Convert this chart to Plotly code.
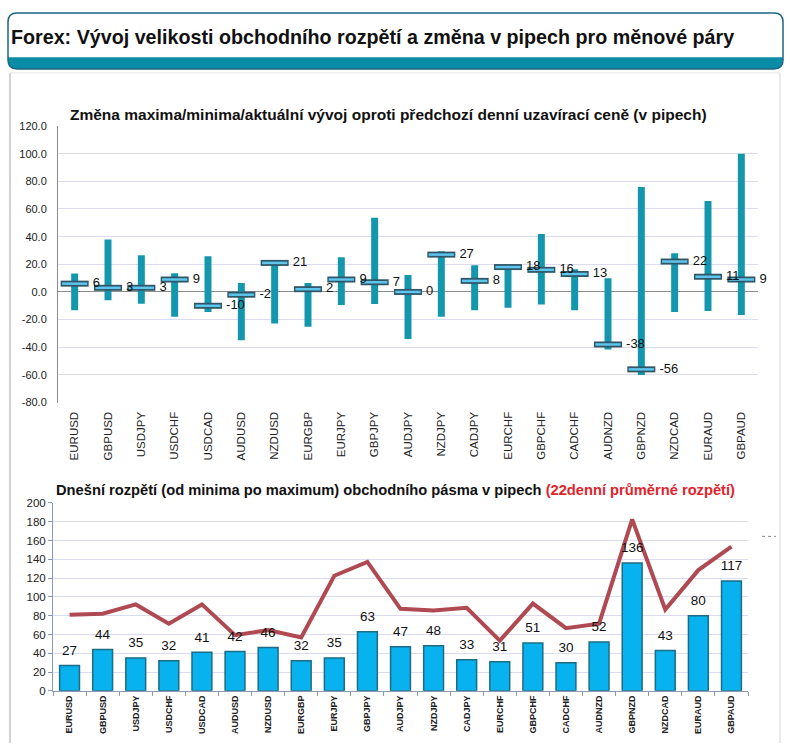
import plotly.graph_objects as go

W, H = 790, 749

pairs = ["EURUSD", "GBPUSD", "USDJPY", "USDCHF", "USDCAD", "AUDUSD", "NZDUSD",
         "EURGBP", "EURJPY", "GBPJPY", "AUDJPY", "NZDJPY", "CADJPY", "EURCHF",
         "GBPCHF", "CADCHF", "AUDNZD", "GBPNZD", "NZDCAD", "EURAUD", "GBPAUD"]

# top chart: change of high / low / current vs previous close (pips)
high_chg = [13.4, 37.9, 26.5, 13.5, 25.8, 6.4, 22.5, 6.4, 25.1, 53.6, 12.3,
            29.4, 19.4, 18.8, 41.9, 16.5, 9.9, 75.9, 28.0, 65.7, 100.0]
low_chg = [-13.3, -6.0, -8.6, -18.0, -14.5, -35.0, -22.8, -25.2, -9.5, -8.8, -34.0,
           -18.0, -13.3, -11.4, -9.0, -13.3, -41.6, -60.0, -14.5, -13.8, -16.7]
cur_chg = [6, 3, 3, 9, -10, -2, 21, 2, 9, 7, 0, 27, 8, 18, 16, 13, -38, -56, 22, 11, 9]

# bottom chart: today's range and 22-day average range
today_range = [27, 44, 35, 32, 41, 42, 46, 32, 35, 63, 47, 48, 33, 31, 51, 30, 52, 136, 43, 80, 117]
avg22_range = [81, 82, 92, 71.5, 92, 59.3, 64.6, 56.9, 122.5, 137.2, 87.3, 85.5, 88.3,
               53.4, 92.9, 66.7, 71.5, 182.5, 86.6, 128.5, 153.6]

top_ticks = [120, 100, 80, 60, 40, 20, 0, -20, -40, -60, -80]
bot_ticks = [0, 20, 40, 60, 80, 100, 120, 140, 160, 180, 200]


def X(px):
    return px / W


def Y(py):
    return 1 - py / H


def rrect(x0, y0, x1, y1, r, top_only=False):
    pts = []
    pts.append(f"M {X(x0 + r)},{Y(y0)}")
    pts.append(f"L {X(x1 - r)},{Y(y0)}")
    pts.append(f"Q {X(x1)},{Y(y0)} {X(x1)},{Y(y0 + r)}")
    if top_only:
        pts.append(f"L {X(x1)},{Y(y1)}")
        pts.append(f"L {X(x0)},{Y(y1)}")
    else:
        pts.append(f"L {X(x1)},{Y(y1 - r)}")
        pts.append(f"Q {X(x1)},{Y(y1)} {X(x1 - r)},{Y(y1)}")
        pts.append(f"L {X(x0 + r)},{Y(y1)}")
        pts.append(f"Q {X(x0)},{Y(y1)} {X(x0)},{Y(y1 - r)}")
    pts.append(f"L {X(x0)},{Y(y0 + r)}")
    pts.append(f"Q {X(x0)},{Y(y0)} {X(x0 + r)},{Y(y0)}")
    pts.append("Z")
    return " ".join(pts)


FONT = "Liberation Sans, Arial, sans-serif"
fig = go.Figure()

# ---- top chart ----
span = [h - l for h, l in zip(high_chg, low_chg)]
fig.add_trace(go.Bar(x=pairs, y=span, base=low_chg, width=0.21,
                     marker=dict(color="#1497ad", line=dict(width=0)),
                     xaxis="x", yaxis="y", hoverinfo="skip", showlegend=False))
fig.add_trace(go.Scatter(x=pairs, y=cur_chg, mode="markers",
                         marker=dict(symbol="line-ew", size=20,
                                     line=dict(width=6, color="#2f5566")),
                         xaxis="x", yaxis="y", cliponaxis=False,
                         hoverinfo="skip", showlegend=False))
fig.add_trace(go.Scatter(x=pairs, y=cur_chg, mode="markers",
                         marker=dict(symbol="line-ew", size=18,
                                     line=dict(width=2.5, color="#5cc6ee")),
                         xaxis="x", yaxis="y", cliponaxis=False,
                         hoverinfo="skip", showlegend=False))
fig.add_trace(go.Scatter(x=pairs, y=cur_chg, mode="text",
                         text=[f"     {v}" for v in cur_chg], textposition="middle right",
                         textfont=dict(family=FONT, size=13, color="#111"),
                         xaxis="x", yaxis="y", cliponaxis=False,
                         hoverinfo="skip", showlegend=False))

# ---- bottom chart ----
fig.add_trace(go.Bar(x=pairs, y=today_range, width=0.6,
                     marker=dict(color="#08b2ee", line=dict(width=1.5, color="#1b6c84")),
                     xaxis="x2", yaxis="y2", hoverinfo="skip", showlegend=False))
fig.add_trace(go.Scatter(x=pairs, y=avg22_range, mode="lines",
                         line=dict(color="#b04a52", width=4),
                         xaxis="x2", yaxis="y2", hoverinfo="skip", showlegend=False))
fig.add_trace(go.Scatter(x=pairs, y=today_range, mode="markers+text",
                         text=[str(v) for v in today_range], textposition="top center",
                         textfont=dict(family=FONT, size=13.5, color="#111"),
                         marker=dict(size=10, color="rgba(0,0,0,0)"),
                         xaxis="x2", yaxis="y2", cliponaxis=False,
                         hoverinfo="skip", showlegend=False))

axis_font = dict(family=FONT, size=11, color="#222")
ncat = len(pairs)

fig.update_layout(
    width=W, height=H, autosize=False,
    margin=dict(l=0, r=0, t=0, b=0),
    paper_bgcolor="white", plot_bgcolor="rgba(0,0,0,0)",
    xaxis=dict(domain=[X(58), X(758)], type="category", tickangle=-90,
               range=[-0.5, ncat - 0.5],
               tickfont=dict(family=FONT, size=11.5, color="#222"),
               showgrid=False, showline=False, ticks="", ticklabelstandoff=6),
    yaxis=dict(domain=[Y(403), Y(122)], range=[-80, 120], tickvals=top_ticks,
               ticktext=[f"{v:.1f}" for v in top_ticks], tickfont=axis_font,
               gridcolor="#dcdcf0", gridwidth=1, zeroline=True, zerolinecolor="#8c8c8c",
               zerolinewidth=1, showline=True, linecolor="#8c8c8c", linewidth=1,
               ticks="", ticklabelstandoff=8),
    xaxis2=dict(domain=[X(53), X(748)], type="category", tickangle=-90,
                range=[-0.5, ncat - 0.5],
                tickfont=dict(family=FONT, size=9, color="#222", weight="bold"),
                showgrid=False, showline=True, linecolor="#8a9ab6", linewidth=1,
                ticks="outside", tickson="boundaries", ticklen=4, tickcolor="#8a9ab6",
                anchor="y2"),
    yaxis2=dict(domain=[Y(696), Y(505)], range=[0, 200], tickvals=bot_ticks,
                tickfont=dict(family=FONT, size=11.5, color="#222"),
                gridcolor="#dcdcf0", gridwidth=1, zeroline=False,
                showline=True, linecolor="#8a9ab6", linewidth=1,
                ticks="outside", ticklen=4, tickcolor="#8a9ab6", anchor="x2"),
)

shapes = []
# panel border
shapes.append(dict(type="line", xref="paper", yref="paper", x0=X(10), x1=X(10), y0=Y(68), y1=Y(749),
                   line=dict(color="#c4c4c4", width=1.5), layer="below"))
shapes.append(dict(type="line", xref="paper", yref="paper", x0=X(780), x1=X(780), y0=Y(68), y1=Y(749),
                   line=dict(color="#d4d4d4", width=1), layer="below"))
shapes.append(dict(type="line", xref="paper", yref="paper", x0=X(10), x1=X(780), y0=Y(68), y1=Y(68),
                   line=dict(color="#e6e6e6", width=1), layer="below"))
# header box
shapes.append(dict(type="path", xref="paper", yref="paper", path=rrect(8, 7, 783, 64, 9),
                   fillcolor="#0a8ca6", line=dict(width=0), layer="below"))
shapes.append(dict(type="path", xref="paper", yref="paper", path=rrect(8, 7, 783, 52, 9, top_only=True),
                   fillcolor="white", line=dict(width=0), layer="below"))
shapes.append(dict(type="path", xref="paper", yref="paper", path=rrect(8, 7, 783, 64, 9),
                   fillcolor="rgba(0,0,0,0)", line=dict(color="#1c6684", width=1.5), layer="below"))
# small dotted mark at right
shapes.append(dict(type="line", xref="paper", yref="paper", x0=X(762), x1=X(776), y0=Y(539), y1=Y(539),
                   line=dict(color="#888", width=1, dash="dot"), layer="below"))
fig.update_layout(shapes=shapes)

annotations = [
    dict(text="Forex: Vývoj velikosti obchodního rozpětí a změna v pipech pro měnové páry",
         x=X(9), y=Y(31), xref="paper", yref="paper", xanchor="left", yanchor="middle",
         showarrow=False, font=dict(family=FONT, size=19.7, color="#111", weight="bold")),
    dict(text="<b>Změna maxima/minima/aktuální vývoj oproti předchozí denní uzavírací ceně (v pipech)</b>",
         x=X(388), y=Y(110), xref="paper", yref="paper", xanchor="center", yanchor="middle",
         showarrow=False, font=dict(family=FONT, size=15.5, color="#111")),
    dict(text="<b>Dnešní rozpětí (od minima po maximum) obchodního pásma v pipech "
              "<span style='color:#e0242c'>(22denní průměrné rozpětí)</span></b>",
         x=X(54), y=Y(492), xref="paper", yref="paper", xanchor="left", yanchor="middle",
         showarrow=False, font=dict(family=FONT, size=14.7, color="#111")),
]
fig.update_layout(annotations=annotations)

fig.write_html("out.html", config={"displayModeBar": False},
               post_script="document.body.style.margin='0';")
